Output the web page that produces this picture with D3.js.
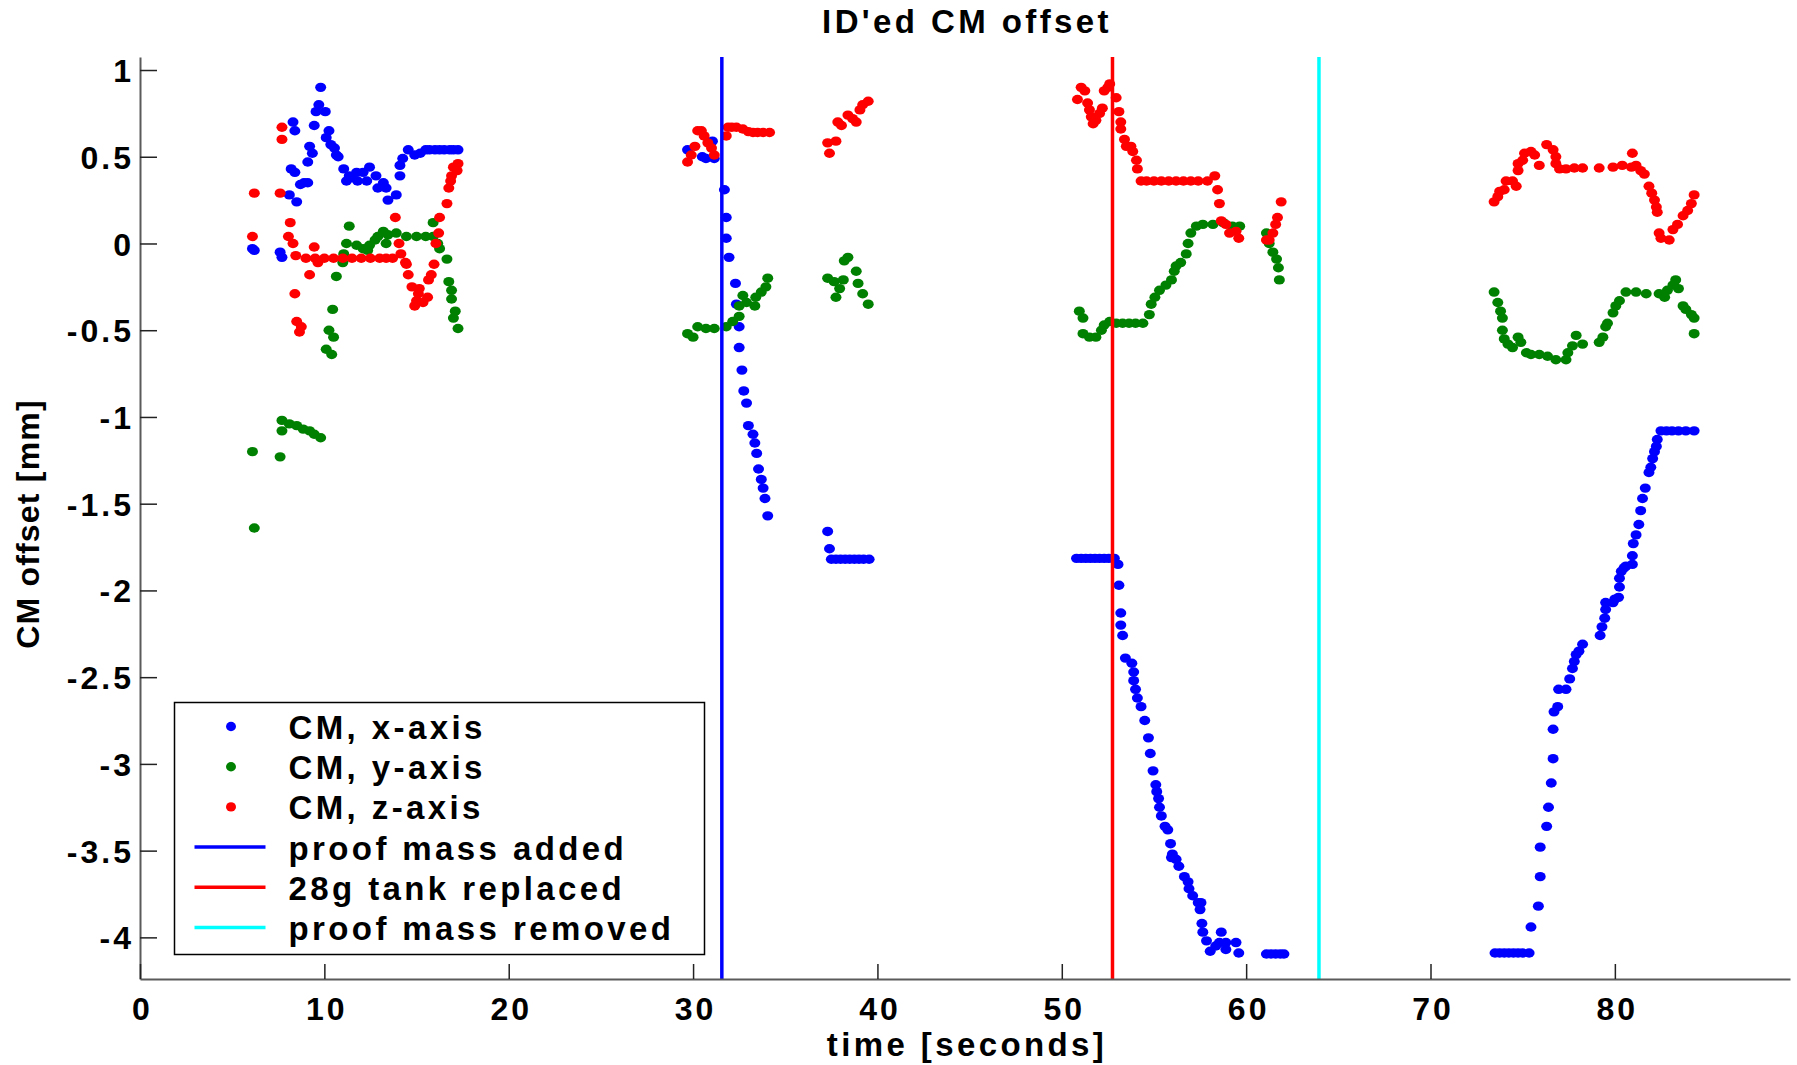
<!DOCTYPE html>
<html>
<head>
<meta charset="utf-8">
<script src="https://cdn.jsdelivr.net/npm/d3@7"></script>
<style>
  body { margin: 0; background: #fff; }
  svg text { font-family: "Liberation Sans", Arial, Helvetica, sans-serif; font-weight: bold; letter-spacing: 3.4px; fill: #000; }
</style>
</head>
<body>
<svg id="chart" width="1797" height="1065"></svg>
<script>
// ---------------------------------------------------------------
// DATA  (time [s], CM offset [mm])
const cmX = [
  [6.1,-0.03],[6.2,-0.04],[7.6,-0.05],[7.7,-0.08],[8.1,0.28],[8.2,0.43],[8.3,0.70],[8.4,0.65],[8.4,0.41],[8.5,0.24],
  [8.7,0.34],[8.9,0.35],[9.1,0.35],[9.1,0.47],[9.2,0.56],[9.35,0.52],[9.45,0.68],[9.55,0.76],[9.7,0.80],[9.8,0.90],
  [10.05,0.76],[10.1,0.61],[10.25,0.65],[10.35,0.57],[10.55,0.55],[10.65,0.51],[10.75,0.50],[11.05,0.43],[11.2,0.36],
  [11.35,0.39],[11.5,0.38],[11.75,0.41],[11.8,0.36],[12.1,0.41],[12.3,0.36],[12.45,0.44],[12.8,0.39],[12.9,0.32],
  [13.2,0.35],[13.35,0.32],[13.45,0.25],[13.9,0.28],[14.1,0.39],[14.1,0.45],[14.25,0.49],[14.55,0.54],[14.9,0.51],
  [15.2,0.52],[15.5,0.54],[15.7,0.54],[16.0,0.54],[16.25,0.54],[16.5,0.54],[16.8,0.54],[17.0,0.54],[17.25,0.54],
  [29.7,0.54],[30.5,0.50],[30.7,0.49],[31.05,0.59],[31.15,0.49],[31.7,0.31],[31.8,0.15],[31.8,0.03],[31.95,-0.08],
  [32.3,-0.23],[32.35,-0.35],[32.5,-0.48],[32.5,-0.60],[32.65,-0.73],[32.75,-0.85],[32.9,-0.92],[33.0,-1.05],
  [33.25,-1.10],[33.35,-1.15],[33.45,-1.21],[33.55,-1.30],[33.7,-1.36],[33.8,-1.41],[33.9,-1.47],[34.05,-1.57],
  [37.3,-1.66],[37.4,-1.76],[37.5,-1.82],[37.75,-1.82],[38.0,-1.82],[38.25,-1.82],[38.5,-1.82],[38.75,-1.82],
  [39.0,-1.82],[39.25,-1.82],[39.55,-1.82],
  [50.8,-1.815],[51.05,-1.815],[51.3,-1.815],[51.55,-1.815],[51.8,-1.815],[52.05,-1.815],[52.3,-1.815],[52.55,-1.815],
  [52.85,-1.815],[53.05,-1.85],[53.1,-1.97],[53.2,-2.13],[53.2,-2.20],[53.3,-2.26],[53.45,-2.39],[53.8,-2.42],
  [53.9,-2.47],[53.9,-2.52],[54.0,-2.57],[54.1,-2.62],[54.3,-2.67],[54.5,-2.75],[54.7,-2.85],[54.8,-2.94],
  [54.95,-3.04],[55.1,-3.12],[55.15,-3.16],[55.25,-3.20],[55.3,-3.25],[55.4,-3.30],[55.6,-3.36],[55.75,-3.38],
  [55.9,-3.46],[56.0,-3.52],[55.95,-3.54],[56.2,-3.55],[56.35,-3.59],[56.65,-3.65],[56.85,-3.68],[56.9,-3.72],
  [57.1,-3.76],[57.4,-3.80],[57.55,-3.80],[57.5,-3.84],[57.6,-3.92],[57.65,-3.97],[57.85,-4.02],[58.05,-4.08],
  [58.35,-4.05],[58.55,-4.03],[58.65,-3.97],[58.9,-4.03],[58.9,-4.07],[59.45,-4.03],[59.6,-4.09],
  [61.1,-4.096],[61.35,-4.096],[61.6,-4.096],[61.85,-4.096],[62.05,-4.096],
  [73.5,-4.09],[73.75,-4.09],[74.0,-4.09],[74.25,-4.09],[74.5,-4.09],[74.75,-4.09],[75.0,-4.09],[75.35,-4.09],
  [75.45,-3.94],[75.85,-3.82],[75.95,-3.65],[75.95,-3.48],[76.3,-3.36],[76.4,-3.25],[76.55,-3.11],[76.65,-2.97],
  [76.65,-2.80],[76.7,-2.70],[76.9,-2.67],[76.95,-2.57],[77.35,-2.57],[77.55,-2.51],[77.7,-2.45],[77.8,-2.41],
  [77.9,-2.37],[78.05,-2.35],[78.25,-2.31],[79.2,-2.26],[79.3,-2.21],[79.45,-2.16],[79.5,-2.11],[79.5,-2.07],
  [79.9,-2.07],[80.0,-2.05],[80.2,-2.04],[80.25,-1.98],[80.25,-1.93],[80.35,-1.89],[80.5,-1.87],[80.6,-1.86],
  [80.95,-1.85],[80.95,-1.80],[81.0,-1.73],[81.15,-1.68],[81.3,-1.62],[81.4,-1.54],[81.5,-1.47],[81.65,-1.41],
  [81.85,-1.32],[81.95,-1.29],[82.05,-1.24],[82.15,-1.20],[82.25,-1.17],[82.3,-1.13],[82.5,-1.08],[82.8,-1.08],
  [83.1,-1.08],[83.45,-1.08],[83.85,-1.08],[84.3,-1.08]
]

const cmY = [
  [6.1,-1.20],[6.2,-1.64],[7.6,-1.23],[7.7,-1.08],[7.7,-1.02],[8.1,-1.04],[8.5,-1.05],[8.85,-1.07],[9.2,-1.08],
  [9.45,-1.10],[9.8,-1.12],[10.1,-0.61],[10.25,-0.50],[10.4,-0.64],[10.5,-0.54],[10.45,-0.38],[10.65,-0.19],
  [11.0,-0.11],[11.05,-0.06],[11.2,0.0],[11.35,0.10],[11.75,-0.01],[12.1,-0.03],[12.35,-0.04],[12.45,-0.01],
  [12.75,0.02],[12.9,0.04],[13.2,0.07],[13.35,0.0],[13.45,0.05],[13.9,0.06],[14.45,0.04],[15.0,0.04],[15.5,0.04],
  [15.9,0.04],[15.9,0.12],[16.15,0.0],[16.25,-0.03],[16.65,-0.09],[16.75,-0.22],[16.9,-0.27],[16.9,-0.32],
  [17.0,-0.43],[17.1,-0.39],[17.25,-0.49],
  [29.7,-0.52],[30.0,-0.54],[30.25,-0.48],[30.7,-0.49],[31.15,-0.49],[31.8,-0.48],[32.15,-0.45],[32.5,-0.42],
  [32.5,-0.36],[32.7,-0.30],[32.9,-0.34],[33.35,-0.36],[33.4,-0.31],[33.7,-0.28],[33.95,-0.25],[34.05,-0.20],
  [37.3,-0.20],[37.65,-0.22],[37.75,-0.31],[37.95,-0.26],[38.15,-0.21],[38.2,-0.10],[38.4,-0.08],[38.85,-0.16],
  [38.95,-0.23],[39.2,-0.29],[39.5,-0.35],
  [50.95,-0.39],[51.15,-0.43],[51.15,-0.52],[51.5,-0.54],[51.85,-0.54],[52.15,-0.50],[52.3,-0.47],[52.6,-0.45],
  [52.95,-0.46],[53.3,-0.46],[53.65,-0.46],[54.0,-0.46],[54.4,-0.46],[54.75,-0.41],[54.85,-0.35],[55.05,-0.31],
  [55.3,-0.27],[55.65,-0.24],[55.95,-0.21],[56.1,-0.16],[56.2,-0.13],[56.45,-0.11],[56.75,-0.06],[56.85,0.0],
  [57.0,0.06],[57.3,0.10],[57.65,0.11],[58.2,0.11],[58.75,0.12],[59.25,0.10],[59.65,0.10],
  [61.1,0.06],[61.25,0.0],[61.45,-0.05],[61.65,-0.09],[61.75,-0.14],[61.8,-0.21],
  [73.45,-0.28],[73.65,-0.34],[73.8,-0.39],[73.9,-0.43],[73.9,-0.50],[74.0,-0.55],[74.2,-0.58],[74.45,-0.60],
  [74.75,-0.54],[74.9,-0.57],[75.2,-0.63],[75.45,-0.64],[75.9,-0.64],[76.35,-0.65],[76.8,-0.67],[77.35,-0.67],
  [77.45,-0.63],[77.7,-0.59],[77.9,-0.53],[78.25,-0.58],[79.15,-0.57],[79.35,-0.54],[79.5,-0.48],[79.6,-0.46],
  [79.9,-0.40],[80.05,-0.36],[80.25,-0.33],[80.6,-0.28],[81.15,-0.28],[81.7,-0.29],[82.4,-0.29],[82.7,-0.31],
  [82.85,-0.27],[83.15,-0.24],[83.3,-0.21],[83.45,-0.26],[83.7,-0.36],[83.85,-0.38],[84.15,-0.41],[84.3,-0.43],
  [84.3,-0.52]
]

const cmZ = [
  [6.1,0.04],[6.2,0.29],[7.6,0.29],[7.7,0.67],[7.7,0.60],[8.05,0.04],[8.15,0.12],[8.3,0.0],[8.45,-0.07],[8.4,-0.29],
  [8.5,-0.45],[8.65,-0.51],[8.75,-0.48],[9.0,-0.085],[9.2,-0.18],[9.45,-0.02],[9.65,-0.11],[9.5,-0.085],[10.0,-0.085],
  [10.5,-0.085],[11.0,-0.085],[11.5,-0.085],[12.0,-0.085],[12.5,-0.085],[13.0,-0.085],[13.35,-0.085],[13.7,-0.085],
  [13.85,0.15],[14.05,0.0],[14.15,-0.06],[14.4,-0.11],[14.45,-0.12],[14.55,-0.18],[14.75,-0.25],[14.9,-0.36],
  [15.0,-0.33],[15.1,-0.29],[15.15,-0.26],[15.35,-0.34],[15.6,-0.31],[15.65,-0.21],[15.8,-0.18],[15.95,-0.12],
  [16.05,0.0],[16.2,0.06],[16.25,0.15],[16.65,0.23],[16.75,0.32],[16.85,0.36],[16.9,0.39],[17.0,0.44],[17.2,0.42],
  [17.25,0.46],
  [29.7,0.47],[29.9,0.51],[30.1,0.56],[30.25,0.65],[30.45,0.65],[30.6,0.62],[30.8,0.58],[31.0,0.55],[31.15,0.51],
  [31.8,0.62],[31.9,0.67],[32.1,0.67],[32.35,0.67],[32.7,0.66],[33.0,0.645],[33.25,0.64],[33.5,0.64],[33.8,0.64],
  [34.15,0.64],
  [37.3,0.58],[37.4,0.52],[37.75,0.59],[37.85,0.70],[38.05,0.68],[38.4,0.74],[38.65,0.72],[38.85,0.70],[39.05,0.77],
  [39.2,0.80],[39.5,0.82],
  [50.85,0.83],[51.05,0.90],[51.25,0.88],[51.4,0.81],[51.5,0.77],[51.6,0.73],[51.7,0.69],[51.85,0.71],[52.05,0.75],
  [52.2,0.78],[52.3,0.88],[52.5,0.90],[52.6,0.92],[52.95,0.84],[53.1,0.76],[53.2,0.70],[53.2,0.66],[53.4,0.60],
  [53.5,0.56],[53.75,0.56],[53.85,0.53],[54.05,0.48],[54.1,0.43],[54.3,0.36],[54.6,0.36],[55.0,0.36],[55.4,0.36],
  [55.8,0.36],[56.2,0.36],[56.6,0.36],[57.0,0.36],[57.4,0.36],[57.9,0.36],[58.3,0.39],[58.45,0.31],[58.55,0.23],
  [58.65,0.13],[58.9,0.11],[59.1,0.06],[59.45,0.07],[59.6,0.03],
  [61.1,0.02],[61.25,0.02],[61.45,0.06],[61.6,0.11],[61.7,0.15],[61.9,0.24],
  [73.45,0.24],[73.65,0.27],[73.75,0.30],[74.0,0.31],[74.1,0.36],[74.45,0.36],[74.65,0.33],[74.75,0.42],[74.75,0.46],
  [75.0,0.48],[75.1,0.52],[75.45,0.53],[75.65,0.51],[75.9,0.45],[76.3,0.57],[76.65,0.54],[76.8,0.50],[76.8,0.46],
  [77.0,0.43],[77.35,0.43],[77.8,0.435],[78.25,0.435],[79.15,0.435],[79.9,0.44],[80.4,0.45],[80.9,0.44],[80.95,0.52],
  [81.15,0.45],[81.4,0.42],[81.6,0.40],[81.85,0.33],[82.0,0.29],[82.15,0.25],[82.25,0.21],[82.3,0.18],[82.4,0.06],
  [82.5,0.03],[82.95,0.02],[83.15,0.08],[83.4,0.11],[83.7,0.16],[83.95,0.19],[84.15,0.23],[84.3,0.28]
]

const eventTimes = [31.56, 52.75, 63.95]
const eventLabels = ["proof mass added", "28g tank replaced", "proof mass removed"]
const eventColors = ["#0000ff", "#ff0000", "#00ffff"]

const seriesLabels = ["CM, x-axis", "CM, y-axis", "CM, z-axis"]
const seriesColors = ["#0000ff", "#008000", "#ff0000"]

const xTicks = [0, 10, 20, 30, 40, 50, 60, 70, 80]
const yTicks = [-4, -3.5, -3, -2.5, -2, -1.5, -1, -0.5, 0, 0.5, 1]

// ---------------------------------------------------------------
const margin = { top: 57, right: 7, bottom: 86, left: 140 }
const W = 1797, H = 1065
const width = W - margin.left - margin.right
const height = H - margin.top - margin.bottom

const svg = d3.select("#chart")
const g = svg.append("g").attr("transform", `translate(${margin.left},${margin.top})`)

const x = d3.scaleLinear().domain([0, 89.5]).range([0, width])
const y = d3.scaleLinear().domain([-4.24, 1.075]).range([height, 0])

// dots: x, then y, then z (z ends up on top)
const series = [cmX, cmY, cmZ]
series.forEach((pts, i) => {
    g.append("g")
        .selectAll("ellipse")
        .data(pts)
        .enter()
        .append("ellipse")
            .attr("cx", d => x(d[0]))
            .attr("cy", d => y(d[1]))
            .attr("rx", 5.5)
            .attr("ry", 4.7)
            .attr("fill", seriesColors[i])
})

// event lines
g.append("g")
    .selectAll("line")
    .data(eventTimes)
    .enter()
    .append("line")
        .attr("x1", d => x(d)).attr("x2", d => x(d))
        .attr("y1", y(1.075)).attr("y2", y(-4.24))
        .attr("stroke", (d, i) => eventColors[i])
        .attr("stroke-width", 3.5)

// axes, ticks pointing inwards like matlab
const yAxis = g.append("g")
    .call(d3.axisLeft(y).tickValues(yTicks).tickSizeInner(-17).tickSizeOuter(0).tickPadding(6)
        .tickFormat(d => String(d)))
const xAxis = g.append("g")
    .attr("transform", `translate(0,${height})`)
    .call(d3.axisBottom(x).tickValues(xTicks).tickSizeInner(-15).tickSizeOuter(0).tickPadding(18)
        .tickFormat(d => String(d)))

;[xAxis, yAxis].forEach(a => {
    a.select(".domain").attr("stroke", "#5a5a5a").attr("stroke-width", 2)
    a.selectAll(".tick line").attr("stroke", "#222").attr("stroke-width", 1.5)
    a.selectAll(".tick text")
        .attr("font-size", 32)
        .style("font-family", `"Liberation Sans", Arial, sans-serif`)
        .style("font-weight", "bold")
        .style("letter-spacing", "3px")
        .attr("fill", "#000")
})
yAxis.selectAll(".tick text").attr("dy", "0.36em")
xAxis.selectAll(".tick text").attr("dx", "2px")

// titles
svg.append("text")
    .attr("x", margin.left + width / 2 + 2)
    .attr("y", 33)
    .attr("text-anchor", "middle")
    .attr("font-size", 33)
    .text("ID'ed CM offset")

svg.append("text")
    .attr("x", margin.left + width / 2 + 2)
    .attr("y", 1056)
    .attr("text-anchor", "middle")
    .attr("font-size", 33)
    .text("time [seconds]")

svg.append("text")
    .attr("transform", `translate(39,${margin.top + height / 2 + 6}) rotate(-90)`)
    .attr("text-anchor", "middle")
    .attr("font-size", 32)
    .style("letter-spacing", "1.2px")
    .text("CM offset [mm]")

// legend
const legend = svg.append("g").attr("transform", "translate(174.5,702.5)")
legend.append("rect")
    .attr("width", 530).attr("height", 252)
    .attr("fill", "#fff").attr("stroke", "#000").attr("stroke-width", 1.5)

const rowH = 40.2
const legendItems = seriesLabels.map((l, i) => ({ label: l, color: seriesColors[i], kind: "dot" }))
    .concat(eventLabels.map((l, i) => ({ label: l, color: eventColors[i], kind: "line" })))

const rows = legend.selectAll("g.row")
    .data(legendItems)
    .enter()
    .append("g")
        .attr("class", "row")
        .attr("transform", (d, i) => `translate(0,${24 + i * rowH})`)

rows.filter(d => d.kind === "dot")
    .append("ellipse")
        .attr("cx", 56.5).attr("cy", 0)
        .attr("rx", 5).attr("ry", 4.7)
        .attr("fill", d => d.color)
rows.filter(d => d.kind === "line")
    .append("line")
        .attr("x1", 20).attr("x2", 91)
        .attr("y1", 0).attr("y2", 0)
        .attr("stroke", d => d.color)
        .attr("stroke-width", 3.5)
rows.append("text")
    .attr("x", 114)
    .attr("y", 12.5)
    .attr("font-size", 33)
    .text(d => d.label)
</script>
</body>
</html>
